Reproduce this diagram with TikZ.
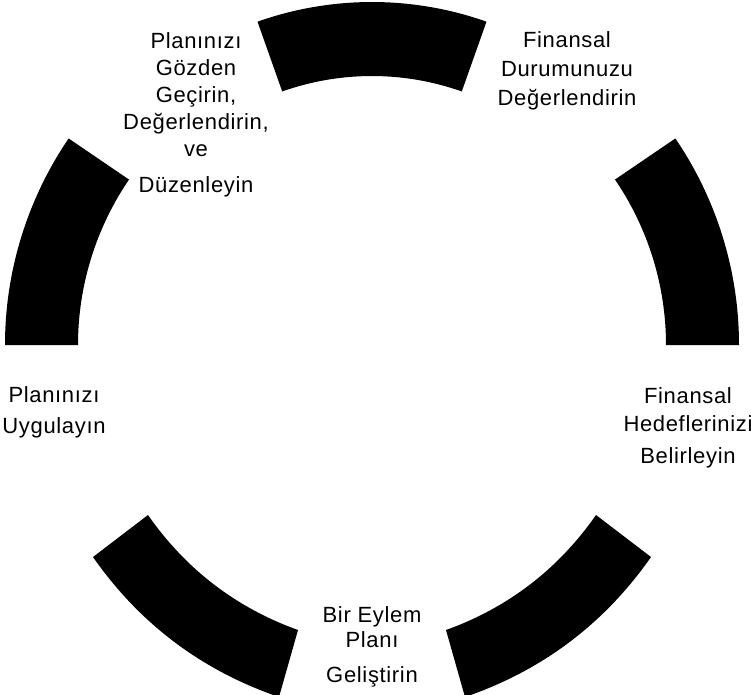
\documentclass[tikz,border=0pt]{standalone}
\usepackage{fontspec}
\setmainfont[LetterSpace=3]{Liberation Sans}
\begin{document}
\begin{tikzpicture}[x=0.75pt,y=-0.75pt,
  seg/.style={fill=black},
  lbl/.style={align=center, anchor=base, inner sep=0pt, text=black,
    font=\fontsize{16.5}{20.25}\selectfont}]
\useasboundingbox (0,0) rectangle (751,694);
\fill[white] (0,0) rectangle (751,694);
\begin{scope}
\clip (0,0) rectangle (751,694);
\coordinate (C) at (372,345);
% top segment
\fill[seg] ([shift={(250.5:343)}]C) arc[start angle=250.5, end angle=289.5, radius=343]
  -- ([shift={(289.5:269)}]C) arc[start angle=289.5, end angle=250.5, radius=269] -- cycle;
% left segment
\fill[seg] ([shift={(180:367)}]C) arc[start angle=180, end angle=214.25, radius=367]
  -- ([shift={(214.25:294)}]C) arc[start angle=214.25, end angle=180, radius=294] -- cycle;
% right segment
\fill[seg] ([shift={(325.75:367)}]C) arc[start angle=325.75, end angle=360, radius=367]
  -- ([shift={(360:294)}]C) arc[start angle=360, end angle=325.75, radius=294] -- cycle;
% bottom-left segment
\coordinate (blot) at (93,557);
\coordinate (blit) at (148,515);
\coordinate (blie) at (298,630);
\coordinate (bloe) at (279,697);
\fill[seg] (blot) -- (blit) .. controls (185.8,569.2) and (235.8,607.6) .. (blie)
  -- (bloe) .. controls (201.8,670.5) and (139.8,623.9) .. (blot) -- cycle;
% bottom-right segment
\coordinate (brot) at (651,557);
\coordinate (brit) at (596,515);
\coordinate (brie) at (446,630);
\coordinate (broe) at (465,697);
\fill[seg] (brot) -- (brit) .. controls (558.2,569.2) and (508.2,607.6) .. (brie)
  -- (broe) .. controls (542.2,670.5) and (604.2,623.9) .. (brot) -- cycle;
\end{scope}
% labels (anchor = baseline of the last line)
\node[lbl] (tl) at (196,192) {Planınızı\\Gözden\\Geçirin,\\Değerlendirin,\\ve\\[6.75pt]Düzenleyin};
\node[lbl] (tr) at (567,105) {Finansal\\[1.5pt]Durumunuzu\\[1.5pt]Değerlendirin};
\node[lbl] (rt) at (688,463) {Finansal\\[0.75pt]Hedeflerinizi\\[3.75pt]Belirleyin};
\node[lbl] (lf) at (54,433) {Planınızı\\[3pt]Uygulayın};
\node[lbl] (bt) at (372,682) {Bir Eylem\\[-1.5pt]Planı\\[6pt]Geliştirin};
\end{tikzpicture}
\end{document}
